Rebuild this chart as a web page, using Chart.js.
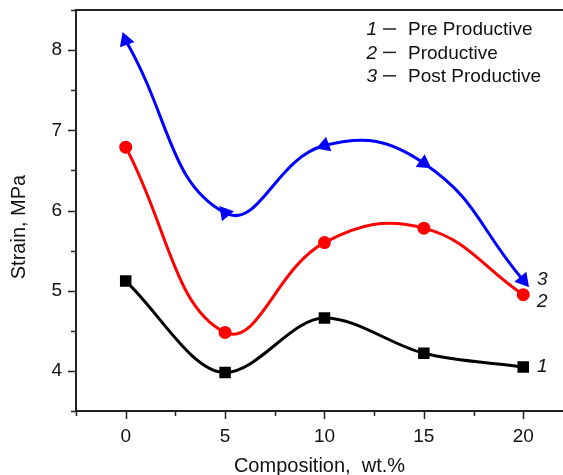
<!DOCTYPE html>
<html>
<head>
<meta charset="utf-8">
<script src="https://cdn.jsdelivr.net/npm/chart.js@4/dist/chart.umd.min.js"></script>
<style>
  html, body { margin: 0; padding: 0; background: #fff; }
  #contenedor { width: 563px; height: 475px; }
</style>
</head>
<body>
<div id="contenedor"><canvas id="grafica"></canvas></div>
<script>
// ------------- Datos de la grafica -------------
const composicion = [0, 5, 10, 15, 20]
const preProductivo = [5.12, 3.98, 4.66, 4.22, 4.05]
const productivo = [6.79, 4.48, 5.60, 5.78, 4.95]
const postProductivo = [8.12, 5.97, 6.81, 6.59, 5.13]

const nombres = ['Pre Productive', 'Productive', 'Post Productive']
const numeros = ['1', '2', '3']
const ticksX = [-2.5, 0, 2.5, 5, 7.5, 10, 12.5, 15, 17.5, 20]
const ticksY = [3.5, 4, 4.5, 5, 5.5, 6, 6.5, 7, 7.5, 8, 8.5]
const tituloX = 'Composition,  wt.%'
const tituloY = 'Strain, MPa'

const fuente = "'Liberation Sans', Arial, sans-serif"
const colores = ['#000000', '#ff0000', '#0000ff']

// armar puntos x,y
const puntos = (serie) => composicion.map((c, i) => ({ x: c, y: serie[i] }))

// desplazamiento vertical de los numeros al final de cada curva
const ajusteNumero = [0, 7, -1]

// quitar el relleno que Chart.js agrega por las etiquetas
const sinRelleno = (s) => {
  s.paddingTop = 0
  s.paddingBottom = 0
  s.paddingLeft = 0
  s.paddingRight = 0
}

// ------------- Plugin: ejes, ticks, titulo Y, leyenda -------------
const dibujoExtra = {
  id: 'dibujoExtra',
  afterDraw(chart) {
    const ctx = chart.ctx
    const a = chart.chartArea
    const sx = chart.scales.x
    const sy = chart.scales.y
    ctx.save()
    ctx.strokeStyle = '#222'
    ctx.lineWidth = 2

    // marco: arriba, izquierda, abajo
    ctx.beginPath()
    ctx.moveTo(a.right, a.top)
    ctx.lineTo(a.left, a.top)
    ctx.lineTo(a.left, a.bottom + 1)
    ctx.moveTo(a.left - 1, a.bottom)
    ctx.lineTo(a.right, a.bottom)
    ctx.stroke()

    // ticks hacia afuera
    ctx.lineWidth = 1.5
    ctx.beginPath()
    ticksX.forEach(v => {
      const px = Math.round(sx.getPixelForValue(v)) + 0.5
      const largo = v % 5 === 0 ? 8 : 5
      ctx.moveTo(px, a.bottom)
      ctx.lineTo(px, a.bottom + largo)
    })
    ticksY.forEach(v => {
      const py = Math.round(sy.getPixelForValue(v)) + 0.5
      const largo = Number.isInteger(v) ? 8 : 5
      ctx.moveTo(a.left, py)
      ctx.lineTo(a.left - largo, py)
    })
    ctx.stroke()

    // titulo eje Y
    ctx.fillStyle = '#111'
    ctx.font = '20px ' + fuente
    ctx.textAlign = 'center'
    ctx.textBaseline = 'middle'
    ctx.save()
    ctx.translate(19, 227)
    ctx.rotate(-Math.PI / 2)
    ctx.fillText(tituloY, 0, 0)
    ctx.restore()

    // leyenda
    nombres.forEach((n, i) => {
      const y = 30 + i * 23.4
      ctx.font = 'italic 19px ' + fuente
      ctx.textAlign = 'right'
      ctx.fillText(numeros[i], 377, y)
      ctx.beginPath()
      ctx.lineWidth = 1.5
      ctx.moveTo(383, y - 1)
      ctx.lineTo(396, y - 1)
      ctx.stroke()
      ctx.font = '19px ' + fuente
      ctx.textAlign = 'left'
      ctx.fillText(n, 408, y)
    })

    // numeros al final de cada curva
    chart.data.datasets.forEach((ds, i) => {
      const ultimo = ds.data[ds.data.length - 1]
      const px = sx.getPixelForValue(ultimo.x)
      const py = sy.getPixelForValue(ultimo.y)
      ctx.font = 'italic 19px ' + fuente
      ctx.textAlign = 'center'
      ctx.fillText(numeros[i], px + 19, py + ajusteNumero[i])
    })
    ctx.restore()
  }
}

// ------------- Configuracion -------------
const datos = {
  datasets: [{
      label: nombres[0],
      data: puntos(preProductivo),
      borderColor: colores[0],
      backgroundColor: colores[0],
      pointStyle: 'rect',
      pointRadius: 6,
      borderWidth: 3,
      cubicInterpolationMode: 'monotone',
    },
    {
      label: nombres[1],
      data: puntos(productivo),
      borderColor: colores[1],
      backgroundColor: colores[1],
      pointStyle: 'circle',
      pointRadius: 5,
      borderWidth: 3,
      tension: 0.42,
    },
    {
      label: nombres[2],
      data: puntos(postProductivo),
      borderColor: colores[2],
      backgroundColor: colores[2],
      pointStyle: 'triangle',
      pointRadius: 6,
      pointRotation: [340, 200, 250, 125, 140],
      borderWidth: 3,
      tension: 0.45,
    },
  ],
}

const config = {
  type: 'line',
  data: datos,
  options: {
    responsive: true,
    maintainAspectRatio: false,
    animation: false,
    layout: { autoPadding: false, padding: { top: 10, right: 0, left: 0, bottom: 0 } },
    elements: {
      point: { borderWidth: 0 },
    },
    plugins: {
      legend: { display: false },
      tooltip: { enabled: false },
    },
    scales: {
      x: {
        type: 'linear',
        min: -2.5,
        max: 22,
        afterBuildTicks: (s) => { s.ticks = ticksX.map(v => ({ value: v })) },
        afterFit: (s) => { s.height = 64; sinRelleno(s) },
        grid: { display: false, drawTicks: false },
        border: { display: false },
        ticks: {
          padding: 14,
          color: '#111',
          font: { family: fuente, size: 19 },
          maxRotation: 0,
          autoSkip: false,
          callback: (v) => (v % 5 === 0 ? v : ''),
        },
        title: {
          display: true,
          text: tituloX,
          color: '#111',
          font: { family: fuente, size: 20 },
          padding: { top: 0, bottom: -3 },
        },
      },
      y: {
        min: 3.5,
        max: 8.5,
        afterBuildTicks: (s) => { s.ticks = ticksY.map(v => ({ value: v })) },
        afterFit: (s) => { s.width = 76; sinRelleno(s) },
        grid: { display: false, drawTicks: false },
        border: { display: false },
        ticks: {
          padding: 14,
          color: '#111',
          font: { family: fuente, size: 19 },
          autoSkip: false,
          callback: (v) => (Number.isInteger(v) ? v : ''),
        },
      },
    },
  },
  plugins: [dibujoExtra],
}

new Chart(document.getElementById('grafica'), config)
</script>
</body>
</html>
